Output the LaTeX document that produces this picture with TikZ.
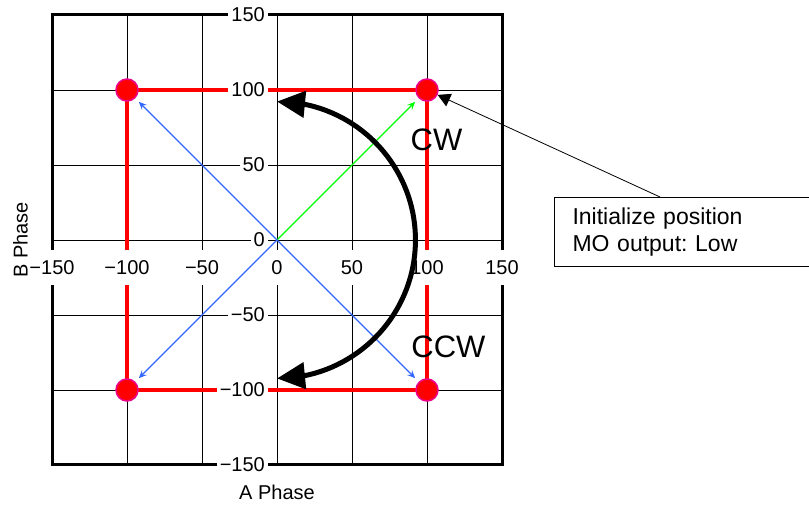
\documentclass[tikz,border=0pt]{standalone}
\usepackage{fontspec}
\setmainfont{Liberation Sans}
\usepackage{xcolor}
\usepackage{tikz}
\usetikzlibrary{arrows.meta, bending}

\definecolor{vecblue}{RGB}{51,102,255}
\definecolor{vecgreen}{RGB}{0,255,0}

\begin{document}
\frenchspacing
\begin{tikzpicture}[x=1.5pt, y=1.5pt,
  gridline/.style={black, line width=0.9pt},
  frameline/.style={black, line width=3pt},
  redpath/.style={red, line width=4pt},
  tickx/.style={fill=white, inner xsep=1pt, inner ysep=0pt, minimum height=35pt, font=\fontsize{20}{24}\selectfont},
  ticky/.style={fill=white, anchor=east, inner xsep=3pt, inner ysep=2pt, font=\fontsize{20}{24}\selectfont},
  posdot/.style={circle, fill=red, draw=magenta, line width=1.5pt, minimum size=22pt, inner sep=0pt},
  vec/.style={line width=1.2pt, shorten >=5pt, -{Stealth[length=8pt, width=7pt, inset=3pt]}},
  dirarc/.style={line width=5pt, {Triangle[length=28pt, width=26pt]}-{Triangle[length=28pt, width=26pt]}},
  dirtext/.style={font=\fontsize{31}{36}\selectfont},
  axtext/.style={font=\fontsize{20}{24}\selectfont},
  notebox/.style={draw, line width=1pt, anchor=north west, text width=220pt, align=left, inner xsep=18pt, minimum height=69pt, font=\fontsize{23}{26.7}\selectfont}]

  \useasboundingbox (-184.67,-179.33) rectangle (354.67,160);

  % grid and frame
  \foreach \v in {-100,-50,0,50,100} {
    \draw[gridline] (\v,-150) -- (\v,150);
    \draw[gridline] (-150,\v) -- (150,\v);
  }
  \draw[frameline] (-150,-150) rectangle (150,150);

  % positions
  \coordinate (O) at (0,0);
  \coordinate (cNE) at (100,100);
  \coordinate (cNW) at (-100,100);
  \coordinate (cSW) at (-100,-100);
  \coordinate (cSE) at (100,-100);
  \draw[redpath] (cNE) -- (cNW) -- (cSW) -- (cSE) -- cycle;

  % tick labels
  \foreach \v/\t in {-150/−150,-100/−100,-50/−50,0/0,50/50,100/100,150/150} {
    \node[tickx] (tx\v) at (\v,-18.33) {\t};
    \node[ticky] (ty\v) at (-6,\v) {\t};
  }
  \node[axtext] (alabel) at (0,-168) {A Phase};
  \node[axtext, rotate=90] (blabel) at (-171,0) {B Phase};

  \node[posdot] (pNE) at (cNE) {};
  \node[posdot] (pNW) at (cNW) {};
  \node[posdot] (pSW) at (cSW) {};
  \node[posdot] (pSE) at (cSE) {};

  \draw[vec, vecgreen] (O) -- (pNE);
  \draw[vec, vecblue] (O) -- (pNW);
  \draw[vec, vecblue] (O) -- (pSW);
  \draw[vec, vecblue] (O) -- (pSE);

  % rotation direction
  \draw[dirarc] (0,-92.3) arc[start angle=-90, end angle=90, radius=92.3];
  \node[dirtext] (cw) at (106.3,66.7) {CW};
  \node[dirtext] (ccw) at (114.3,-71) {CCW};

  % note
  \node[notebox] (note) at (184.67,28.67) {Initialize position\\MO output: Low};
  \coordinate (noteend) at (255.33,28.67);
  \draw[line width=0.8pt, -{Triangle[length=12.5pt, width=13.5pt]}] (noteend) -- (pNE);
\end{tikzpicture}
\end{document}
